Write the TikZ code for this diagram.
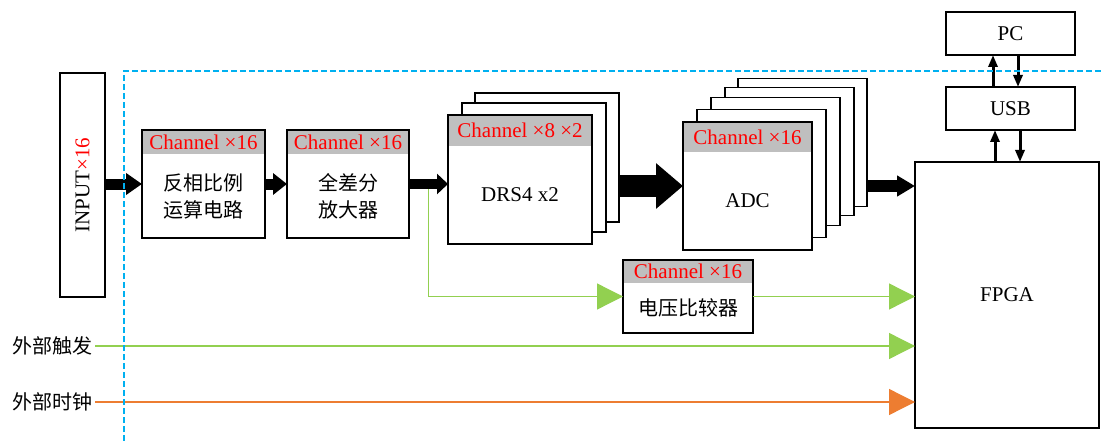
\documentclass[tikz,border=0pt]{standalone}
\usepackage{fontspec}
\setmainfont{Liberation Serif}
\newfontfamily\cjk{Noto Sans CJK SC}
\usetikzlibrary{calc,positioning,arrows.meta}

\definecolor{chred}{RGB}{255,0,0}
\definecolor{sepblue}{RGB}{0,176,240}
\definecolor{siggreen}{RGB}{146,208,80}
\definecolor{clkorange}{RGB}{237,125,49}
\definecolor{hdrgray}{RGB}{191,191,191}

\begin{document}
\begin{tikzpicture}[x=1pt,y=-1pt,
	font=\fontsize{21}{27}\selectfont,
	blk/.style={draw,fill=white,line width=1.3pt,inner sep=0pt,outer sep=0pt},
	hdr/.style={fill=hdrgray,text=chred,inner sep=0pt,outer sep=0pt,anchor=north},
	txt/.style={align=center,font=\cjk\fontsize{20}{27}\selectfont},
	fat/.style n args={3}{line width=#1,-{Triangle[width=#2,length=#3]}},
	sig/.style={#1,line width=1.3pt,-{Triangle[width=26pt,length=26pt]}}
	]
	\useasboundingbox (0,0) rectangle (1103,441);

	\node[blk,minimum width=45pt,minimum height=224pt] (inp) at (82.5,185) {};
	\node[rotate=90] (inpt) at (inp) {INPUT\textcolor{chred}{×16}};

	\foreach \dx/\dy [count=\i] in {27/-22,14/-12}
		\node[blk,minimum width=144pt,minimum height=129pt] (drs\i) at (520+\dx,179.5+\dy) {};
	\foreach \dx/\dy [count=\i] in {55/-43.5,42/-34.5,28/-24.5,14/-12.5}
		\node[blk,minimum width=129pt,minimum height=128pt] (adc\i) at (747.5+\dx,186+\dy) {};

	\foreach \n/\x/\y/\w/\h/\hh/\hd/\tx in {
		amp1/203.5/184/123/108/24/{Channel ×16}/{反相比例\\运算电路},
		amp2/348/184/122/108/24/{Channel ×16}/{全差分\\放大器},
		drs/520/179.5/144/129/31/{Channel ×8 ×2}/{\rmfamily\fontsize{21}{27}\selectfont DRS4 x2},
		adc/747.5/186/129/128/30/{Channel ×16}/{\rmfamily\fontsize{21}{27}\selectfont ADC},
		cmp/688/296.5/130/73/23/{Channel ×16}/{电压比较器}}
	{
		\node[blk,minimum width=\w pt,minimum height=\h pt] (\n) at (\x,\y) {};
		\node[hdr,minimum width=\w pt,minimum height=\hh pt] (\n-h) at (\n.north) {\hd};
		\draw[line width=1.3pt] (\n.north west) rectangle (\n.south east);
		\node[txt] (\n-t) at ($(\n-h.south)!0.5!(\n.south)$) {\tx};
	}

	\node[blk,minimum width=184pt,minimum height=266pt] (fpga) at (1007,295) {FPGA};
	\node[blk,minimum width=129pt,minimum height=43pt] (usb) at (1010.5,108.5) {USB};
	\node[blk,minimum width=129pt,minimum height=43pt] (pc) at (1010.5,33.5) {PC};

	\node[txt,anchor=east,inner sep=2pt] (trig) at (95,346) {外部触发};
	\node[txt,anchor=east,inner sep=2pt] (clk) at (95,402) {外部时钟};

	\coordinate (tap) at ($(amp2.east)!0.5!(drs.west)$);
	\draw[sig=siggreen] (tap) |- (cmp.west);
	\draw[sig=siggreen] (cmp.east) -- (cmp.east -| fpga.west);
	\draw[sig=siggreen] (trig.east) -- (trig.east -| fpga.west);
	\draw[sig=clkorange] (clk.east) -- (clk.east -| fpga.west);

	\draw[fat={11pt}{21pt}{16pt}] (inp.east |- amp1.west) -- (amp1.west);
	\draw[fat={11pt}{21pt}{14pt}] (amp1.east) -- (amp2.west);
	\draw[fat={10pt}{20pt}{11pt}] (amp2.east) -- (amp2.east -| drs.west);
	\draw[fat={22pt}{44pt}{27pt}] (drs1.east |- adc.west) -- (adc.west);
	\draw[fat={12pt}{20pt}{18pt}] (adc1.east |- adc.east) -- (adc.east -| fpga.west);

	\draw[fat={3pt}{9pt}{12pt}] ([xshift=-17.5pt]usb.north) -- ([xshift=-17.5pt]pc.south);
	\draw[fat={3pt}{9pt}{12pt}] ([xshift=7.5pt]pc.south) -- ([xshift=7.5pt]usb.north);
	\draw[fat={3pt}{9pt}{12pt}] ([xshift=-15.5pt]usb.south |- fpga.north) -- ([xshift=-15.5pt]usb.south);
	\draw[fat={3pt}{9pt}{12pt}] ([xshift=9.5pt]usb.south) -- ([xshift=9.5pt]usb.south |- fpga.north);

	\draw[sepblue,line width=1.2pt,dash pattern=on 6pt off 3pt] (124,441) |- (1103,71);
\end{tikzpicture}
\end{document}
